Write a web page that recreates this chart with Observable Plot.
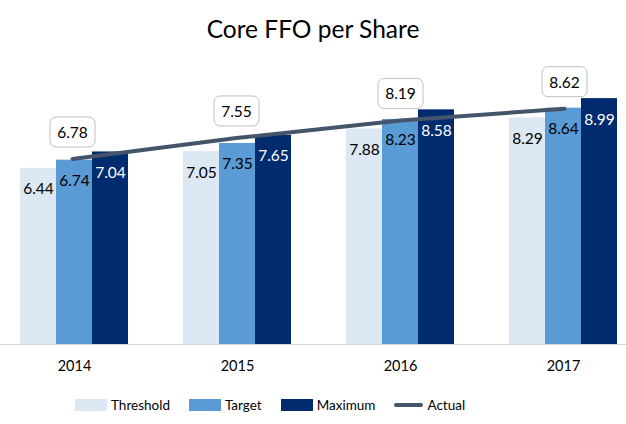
<!DOCTYPE html>
<html>
<head>
<meta charset="utf-8">
<script src="https://cdn.jsdelivr.net/npm/d3@7"></script>
<script src="https://cdn.jsdelivr.net/npm/@observablehq/plot@0.6"></script>
<style>
  body { margin: 0; background: #fff; font-family: Lato, "Open Sans", sans-serif; }
  #wrap { width: 626px; height: 424px; position: relative; overflow: hidden; }
  #title { height: 62px; box-sizing: border-box; padding-top: 15px; text-align: center; font-size: 24.5px; line-height: 28px; color: #000; }
  #chart { position: relative; width: 626px; height: 322px; }
  #chart svg { position: absolute; left: 0; top: 0; }
  #legend { display: flex; align-items: center; padding-left: 75px; padding-top: 12px; font-size: 13.5px; color: #000; line-height: 18px; }
  .item { display: flex; align-items: center; margin-right: 19px; }
  .sw { width: 32px; height: 12px; margin-right: 4px; }
  .ln { width: 29px; height: 4px; border-radius: 2px; margin-right: 4px; }
</style>
</head>
<body>
<div id="wrap">
  <div id="title">Core FFO per Share</div>
  <div id="chart"></div>
  <div id="legend"></div>
</div>
<script>
const years = ["2014", "2015", "2016", "2017"];
const series = ["Threshold", "Target", "Maximum"];
const threshold = [6.44, 7.05, 7.88, 8.29];
const target = [6.74, 7.35, 8.23, 8.64];
const maximum = [7.04, 7.65, 8.58, 8.99];
const actual = [6.78, 7.55, 8.19, 8.62];
const colors = ["#dde8f5", "#5b9bd5", "#002b6e"];
const lineColor = "#44546a";

const valuesBySeries = {Threshold: threshold, Target: target, Maximum: maximum};
const rows = [];
years.forEach((yr, i) => series.forEach(s => rows.push({year: yr, series: s, value: valuesBySeries[s][i]})));
const actualRows = years.map((yr, i) => ({year: yr, value: actual[i]}));

const W = 626, H = 322, MT = 8.5, MB = 40;
const font = {fontFamily: "Lato, 'Open Sans', sans-serif", fontSize: "14.5px", color: "#000", background: "transparent", overflow: "visible"};

const bars = Plot.plot({
  width: W, height: H, marginTop: MT, marginBottom: MB, marginLeft: 18, marginRight: 8,
  style: font,
  fx: {domain: years, paddingInner: 0.34, paddingOuter: 0, label: null, axis: "bottom", tickSize: 0, tickPadding: 16},
  x: {domain: series, padding: 0, axis: null},
  y: {domain: [0, 10], axis: null},
  color: {domain: series, range: colors},
  marks: [
    Plot.barY(rows, {fx: "year", x: "series", y: "value", fill: "series"}),
    Plot.text(rows, {fx: "year", x: "series", y: "value", text: d => d.value.toFixed(2), dy: 21, fontSize: 15.5,
      fill: d => d.series === "Maximum" ? "#ffffff" : "#000000"})
  ]
});

const overlay = Plot.plot({
  width: W, height: H, marginTop: MT, marginBottom: MB, marginLeft: 0, marginRight: 0,
  style: font,
  x: {type: "point", domain: years, range: [72, 564], padding: 0, axis: null},
  y: {domain: [0, 10], axis: null},
  marks: [
    Plot.ruleY([0], {stroke: "#d9d9d9", strokeWidth: 1.2}),
    Plot.line(actualRows, {x: "year", y: "value", stroke: lineColor, strokeWidth: 4, strokeLinecap: "round"}),
    Plot.text(actualRows, {x: "year", y: "value", text: d => d.value.toFixed(2), dy: -26, fontSize: 15.5, fill: "#000"})
  ]
});

const chart = document.getElementById("chart");
chart.appendChild(bars);
chart.appendChild(overlay);

// rounded boxes behind the Actual data labels
const texts = d3.select(overlay).selectAll('g[aria-label="text"] text');
texts.each(function() {
  const bb = this.getBBox();
  const w = 45, h = 30;
  const cx = bb.x + bb.width / 2, cy = bb.y + bb.height / 2;
  const g = this.parentNode;
  const r = d3.select(g).insert("rect", () => this)
    .attr("x", cx - w / 2).attr("y", cy - h / 2)
    .attr("width", w).attr("height", h)
    .attr("rx", 6).attr("ry", 6)
    .attr("fill", "#fff").attr("stroke", "#c0c0c0").attr("stroke-width", 1);
  const tr = this.getAttribute("transform");
  if (tr) r.attr("transform", tr);
});

// legend
const legend = d3.select("#legend");
series.forEach((s, i) => {
  const it = legend.append("div").attr("class", "item");
  it.append("div").attr("class", "sw").style("background", colors[i]);
  it.append("span").text(s);
});
const it = legend.append("div").attr("class", "item");
it.append("div").attr("class", "ln").style("background", lineColor);
it.append("span").text("Actual");
</script>
</body>
</html>
